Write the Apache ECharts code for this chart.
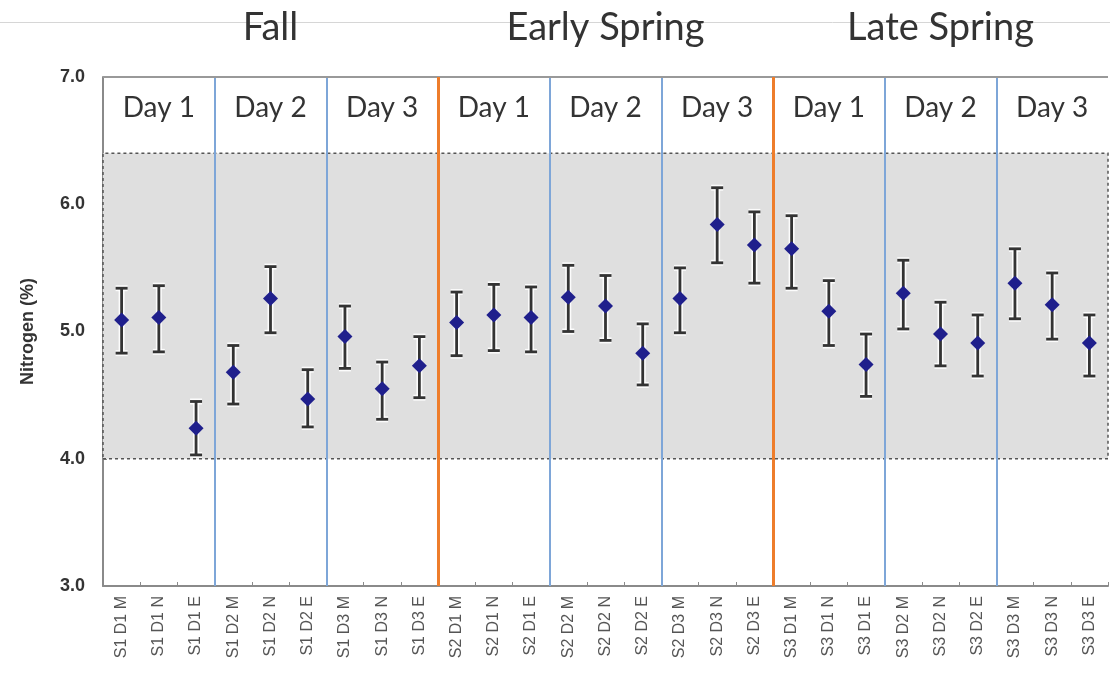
<!DOCTYPE html>
<html>
<head>
<meta charset="utf-8">
<script src="https://cdn.jsdelivr.net/npm/echarts@6/dist/echarts.min.js"></script>
<style>
  html, body { margin: 0; padding: 0; background: #fff; }
  #nitrogen { width: 1110px; height: 677px; }
</style>
</head>
<body>
<div id="nitrogen"></div>
<script>
let seasons = ['Fall', 'Early Spring', 'Late Spring'];
let days = ['Day 1', 'Day 2', 'Day 3', 'Day 1', 'Day 2', 'Day 3', 'Day 1', 'Day 2', 'Day 3'];

let samples = [
    'S1 D1 M', 'S1 D1 N', 'S1 D1 E', 'S1 D2 M', 'S1 D2 N', 'S1 D2 E', 'S1 D3 M', 'S1 D3 N', 'S1 D3 E',
    'S2 D1 M', 'S2 D1 N', 'S2 D1 E', 'S2 D2 M', 'S2 D2 N', 'S2 D2 E', 'S2 D3 M', 'S2 D3 N', 'S2 D3 E',
    'S3 D1 M', 'S3 D1 N', 'S3 D1 E', 'S3 D2 M', 'S3 D2 N', 'S3 D2 E', 'S3 D3 M', 'S3 D3 N', 'S3 D3 E'
];

// mean nitrogen (%)
let means = [5.09, 5.11, 4.24, 4.68, 5.26, 4.47, 4.96, 4.55, 4.73,
             5.07, 5.13, 5.11, 5.27, 5.20, 4.83, 5.26, 5.84, 5.68,
             5.65, 5.16, 4.74, 5.30, 4.98, 4.91, 5.38, 5.21, 4.91];
// error bar ends
let highs = [5.34, 5.36, 4.45, 4.89, 5.51, 4.70, 5.20, 4.76, 4.96,
             5.31, 5.37, 5.35, 5.52, 5.44, 5.06, 5.50, 6.13, 5.94,
             5.91, 5.40, 4.98, 5.56, 5.23, 5.13, 5.65, 5.46, 5.13];
let lows = [4.83, 4.84, 4.03, 4.43, 4.99, 4.25, 4.71, 4.31, 4.48,
            4.81, 4.85, 4.84, 5.00, 4.93, 4.58, 4.99, 5.54, 5.38,
            5.34, 4.89, 4.49, 5.02, 4.73, 4.65, 5.10, 4.94, 4.65];

// sufficiency range (shaded band)
let bandRange = [4.0, 6.4];
let yTicks = [3, 7, 1];

let errorData = [];
for (let i = 0; i < samples.length; i++) {
    errorData.push([i, lows[i], highs[i]]);
}

function renderErrorBar(params, api) {
    let top = api.coord([api.value(0), api.value(2)]);
    let bot = api.coord([api.value(0), api.value(1)]);
    let x = top[0];
    let half = 6;
    let segs = [
        [x, top[1], x, bot[1]],
        [x - half, top[1], x + half, top[1]],
        [x - half, bot[1], x + half, bot[1]]
    ];
    let children = [];
    for (let s of segs) {
        children.push({
            type: 'line',
            shape: { x1: s[0], y1: s[1], x2: s[2], y2: s[3] },
            style: { stroke: 'rgba(255,255,255,0.9)', lineWidth: 6 }
        });
    }
    for (let s of segs) {
        children.push({
            type: 'line',
            shape: { x1: s[0], y1: s[1], x2: s[2], y2: s[3] },
            style: { stroke: '#333', lineWidth: 2.8 }
        });
    }
    return { type: 'group', children: children };
}

let option = {
    animation: false,
    backgroundColor: '#fff',
    grid: { left: 103, right: 2, top: 77, bottom: 91 },
    graphic: [{
        type: 'line',
        z: -10,
        shape: { x1: 0, y1: 22.5, x2: 1110, y2: 22.5 },
        style: { stroke: '#d6d6d6', lineWidth: 1 }
    }],
    xAxis: [
        {
            type: 'category',
            data: samples,
            boundaryGap: true,
            axisLine: { lineStyle: { color: '#8a8a8a', width: 2 } },
            axisTick: { show: true, inside: true, length: 4, lineStyle: { color: '#8a8a8a' } },
            axisLabel: {
                rotate: 90,
                interval: 0,
                margin: 10,
                fontFamily: 'Arial, "Liberation Sans", sans-serif',
                fontSize: 16,
                color: '#555'
            },
            splitLine: { show: false }
        },
        {
            type: 'category',
            data: days,
            position: 'top',
            z: 5,
            boundaryGap: true,
            axisLine: { show: false },
            axisTick: { show: false },
            axisLabel: {
                inside: true,
                interval: 0,
                margin: 31,
                verticalAlign: 'middle',
                fontFamily: 'Lato, "Open Sans", sans-serif',
                fontSize: 28,
                color: '#333'
            },
            splitLine: {
                show: true,
                showMinLine: false,
                showMaxLine: false,
                lineStyle: { color: '#7ea6d8', width: 2 }
            }
        },
        {
            type: 'category',
            data: seasons,
            position: 'top',
            z: 6,
            boundaryGap: true,
            axisLine: { show: false },
            axisTick: { show: false },
            axisLabel: {
                interval: 0,
                margin: 49,
                verticalAlign: 'middle',
                fontFamily: 'Lato, "Open Sans", sans-serif',
                fontSize: 38,
                color: '#333'
            },
            splitLine: {
                show: true,
                showMinLine: false,
                showMaxLine: false,
                lineStyle: { color: '#ee7d2b', width: 3 }
            }
        }
    ],
    yAxis: {
        type: 'value',
        min: yTicks[0],
        max: yTicks[1],
        interval: yTicks[2],
        name: 'Nitrogen (%)',
        nameLocation: 'middle',
        nameGap: 66,
        nameTextStyle: {
            fontFamily: 'Arial, "Liberation Sans", sans-serif',
            fontSize: 18,
            fontWeight: 'bold',
            color: '#333'
        },
        axisLine: { show: true, lineStyle: { color: '#8a8a8a', width: 2 } },
        axisTick: { show: true, inside: true, length: 4, lineStyle: { color: '#8a8a8a' } },
        axisLabel: {
            margin: 18,
            formatter: v => v.toFixed(1),
            fontFamily: 'Arial, "Liberation Sans", sans-serif',
            fontSize: 18,
            fontWeight: 'bold',
            color: '#333'
        },
        splitLine: { show: false }
    },
    series: [
        {
            name: 'range',
            type: 'custom',
            z: 8,
            renderItem: renderErrorBar,
            encode: { x: 0, y: [1, 2] },
            data: errorData
        },
        {
            name: 'Nitrogen',
            type: 'scatter',
            z: 10,
            symbol: 'diamond',
            symbolSize: [15, 15],
            itemStyle: { color: '#1f1f8c', opacity: 1 },
            data: means,
            markArea: {
                silent: true,
                itemStyle: {
                    color: '#dfdfdf',
                    borderColor: '#555',
                    borderWidth: 1.5,
                    borderType: [3, 3]
                },
                data: [[{ yAxis: bandRange[0] }, { yAxis: bandRange[1] }]]
            },
            markLine: {
                silent: true,
                symbol: 'none',
                label: { show: false },
                lineStyle: { color: '#999', width: 2, type: 'solid' },
                data: [{ yAxis: yTicks[1] }]
            }
        }
    ]
};

let chartNitrogen = echarts.init(document.getElementById('nitrogen'));
chartNitrogen.setOption(option);
</script>
</body>
</html>
